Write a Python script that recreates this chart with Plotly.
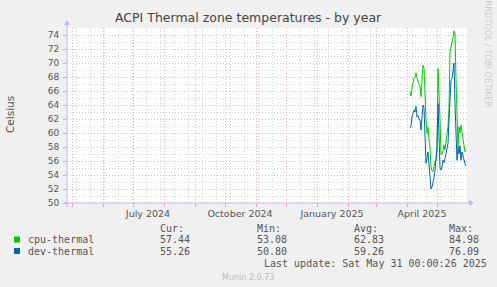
import plotly.graph_objects as go
import pandas as pd

# ---- data ----
dates = pd.date_range("2025-04-04", "2025-05-30", freq="D")
cpu_thermal = [65.9, 65.3, 66.4, 67.3, 67.8, 68.0, 68.6, 67.9, 67.3, 66.9,
               66.6, 65.2, 67.5, 69.7, 69.3, 65.0, 61.9, 60.0, 60.8, 59.0,
               58.0, 55.2, 54.6, 54.5, 55.3, 56.0, 56.1, 57.5, 69.2, 66.0,
               61.9, 56.9, 57.0, 57.5, 58.3, 57.6, 58.8, 59.5, 60.9, 63.5,
               71.4, 72.3, 72.8, 73.6, 74.6, 74.3, 67.6, 62.3, 58.0, 60.9,
               60.0, 61.1, 60.2, 59.4, 58.5, 57.3, 57.44]
dev_thermal = [60.7, 61.0, 62.3, 62.8, 63.3, 63.0, 63.8, 62.3, 62.5, 62.0,
               61.9, 60.4, 62.0, 64.0, 63.6, 59.0, 55.7, 56.5, 57.3, 55.5,
               53.2, 52.0, 52.3, 52.8, 53.6, 54.7, 56.1, 58.0, 64.2, 60.5,
               55.0, 54.7, 55.2, 56.1, 55.8, 56.3, 57.1, 57.6, 58.5, 61.9,
               65.0, 67.6, 67.8, 69.5, 70.0, 64.2, 59.5, 56.1, 58.0, 57.0,
               58.2, 56.1, 57.3, 56.6, 56.0, 55.6, 55.26]
series_names = ["cpu-thermal", "dev-thermal"]
series_colors = ["#00cc00", "#0066b3"]
stats_headers = ["Cur:", "Min:", "Avg:", "Max:"]
cpu_stats = ["57.44", "53.08", "62.83", "84.98"]
dev_stats = ["55.26", "50.80", "59.26", "76.09"]
x_tick_vals = ["2024-07-16", "2024-10-16", "2025-01-16", "2025-04-16"]
x_tick_text = ["July 2024", "October 2024", "January 2025", "April 2025"]
x_start, x_end = "2024-04-26", "2025-05-31"
y_min, y_max = 50, 75

# ---- layout geometry (pixels) ----
W_FIG, H_FIG = 497, 287
L, R, T, B = 67, 467, 28, 203
PW, PH = R - L, B - T


def px(x):
    return (x - L) / PW


def py(y):
    return (B - y) / PH


AXIS_COL = "#b8b8ff"
TXT = "#555555"
FONT = "DejaVu Sans"
MONO = "DejaVu Sans Mono"
MAJOR_GRID = "#eab4b4"
MINOR_GRID = "#d4d4d4"
DASH = "1px,2px"

fig = go.Figure()
for name, vals, col in zip(series_names, [cpu_thermal, dev_thermal], series_colors):
    fig.add_trace(go.Scatter(x=dates, y=vals, mode="lines", name=name,
                             line=dict(color=col, width=1), showlegend=False))

# invisible trace for label axis
fig.add_trace(go.Scatter(x=[x_start], y=[y_min], xaxis="x2", mode="markers",
                         marker=dict(opacity=0), showlegend=False, hoverinfo="skip"))

fig.update_layout(
    width=W_FIG, height=H_FIG,
    margin=dict(l=L, r=W_FIG - R, t=T, b=H_FIG - B),
    paper_bgcolor="#f0f0f0", plot_bgcolor="#ffffff",
    font=dict(family=FONT, color=TXT, size=9),
    xaxis=dict(
        type="date", range=[x_start, x_end],
        tick0="2024-05-01", dtick="M1",
        showgrid=True, gridcolor=MAJOR_GRID, griddash=DASH, gridwidth=1,
        showticklabels=False, ticks="outside", ticklen=3, tickcolor="#e8a0a0",
        minor=dict(tick0="2024-05-05", dtick=14 * 86400000, showgrid=True,
                   gridcolor=MINOR_GRID, griddash=DASH, gridwidth=1),
        showline=False, zeroline=False, fixedrange=True,
    ),
    xaxis2=dict(
        type="date", range=[x_start, x_end], overlaying="x", side="bottom",
        tickmode="array", tickvals=x_tick_vals, ticktext=x_tick_text,
        showgrid=False, ticks="", showline=False, zeroline=False,
        tickfont=dict(family=FONT, size=9.5, color=TXT), ticklabelstandoff=3,
    ),
    yaxis=dict(
        range=[y_min, y_max], tick0=50, dtick=2,
        showgrid=True, gridcolor=MAJOR_GRID, griddash=DASH, gridwidth=1,
        minor=dict(dtick=1, showgrid=True, gridcolor=MINOR_GRID, griddash=DASH, gridwidth=1),
        ticks="outside", ticklen=3, tickcolor="#e8a0a0",
        tickfont=dict(family=FONT, size=9, color=TXT), ticklabelstandoff=2,
        showline=False, zeroline=False, fixedrange=True,
    ),
)

# axes lines with arrows
fig.add_shape(type="line", xref="paper", yref="paper",
              x0=px(L - 3), x1=px(R + 4), y0=py(B), y1=py(B),
              line=dict(color=AXIS_COL, width=1))
fig.add_shape(type="line", xref="paper", yref="paper",
              x0=px(L), x1=px(L), y0=py(B + 4), y1=py(T - 5),
              line=dict(color=AXIS_COL, width=1))
fig.add_shape(type="path", xref="paper", yref="paper",
              path=f"M {px(R + 2)} {py(B - 3)} L {px(R + 7)} {py(B)} L {px(R + 2)} {py(B + 3)} Z",
              fillcolor=AXIS_COL, line=dict(color=AXIS_COL, width=0))
fig.add_shape(type="path", xref="paper", yref="paper",
              path=f"M {px(L - 3)} {py(T - 3)} L {px(L)} {py(T - 8)} L {px(L + 3)} {py(T - 3)} Z",
              fillcolor=AXIS_COL, line=dict(color=AXIS_COL, width=0))


def ann(text, x, y, size=10, color=TXT, family=MONO, xanchor="left", angle=0):
    fig.add_annotation(text=text, x=px(x), y=py(y), xref="paper", yref="paper",
                       showarrow=False, xanchor=xanchor, yanchor="middle",
                       textangle=angle, font=dict(family=family, size=size, color=color))


# title
ann("ACPI Thermal zone temperatures - by year", 248, 18, size=12.5, color="#444444",
    family=FONT, xanchor="center")
# y title
ann("Celsius", 10, 115, size=10.5, color=TXT, family=FONT, xanchor="center", angle=-90)
# watermark
ann("RRDTOOL / TOBI OETIKER", 487.5, 54, size=8.3, color="#cccccc", family=FONT,
    xanchor="center", angle=90)

# legend
col_x = [158, 255, 352, 447]
for hx, h in zip(col_x, stats_headers):
    ann(h, hx, 228)
rows_y = [239.5, 251]
for ry, name, col, stats in zip(rows_y, series_names, series_colors, [cpu_stats, dev_stats]):
    fig.add_shape(type="rect", xref="paper", yref="paper",
                  x0=px(14), x1=px(20), y0=py(ry - 3), y1=py(ry + 3),
                  fillcolor=col, line=dict(width=0))
    ann(name, 26, ry)
    for sx, s in zip(col_x, stats):
        ann(s, sx, ry)
ann("Last update: Sat May 31 00:00:26 2025", 262, 263.5)
ann("Munin 2.0.73", 248, 277, size=8, color="#bbbbbb", family=FONT, xanchor="center")

fig.write_html("out.html")
